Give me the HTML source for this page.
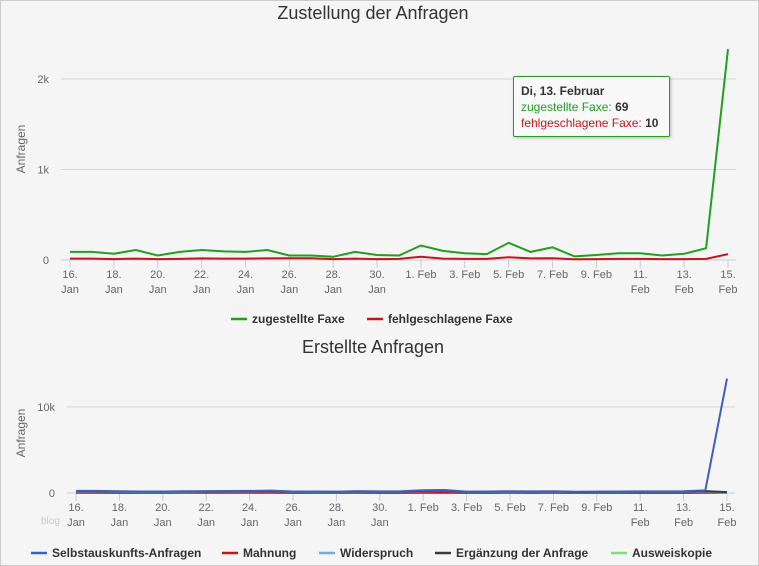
<!DOCTYPE html>
<html><head><meta charset="utf-8">
<style>
body{margin:0;background:#fff;}
#wrap{position:relative;width:757px;height:564px;border:1px solid #ccc;background:#f5f5f5;font-family:"Liberation Sans",sans-serif;overflow:hidden;}
svg{position:absolute;left:0;top:0;}
text{font-family:"Liberation Sans",sans-serif;}
#tip{position:absolute;left:512px;top:75px;width:146px;height:51px;background:#f9f9f9;border:1px solid #2a9a2a;border-radius:2px;box-shadow:1px 1px 3px rgba(0,0,0,.25);font-size:12px;line-height:16px;padding:6px 0 0 7px;box-sizing:border-box;width:157px;height:61px;color:#333;}
</style></head><body>
<div id="wrap">
<svg id="svg" width="759" height="566"></svg>
<div id="tip"><b>Di, 13. Februar</b><br><span style="color:#1fa01f">zugestellte Faxe: </span><b>69</b><br><span style="color:#c4161c">fehlgeschlagene Faxe: </span><b>10</b></div>
</div>
<script>
const xLabels1=["16.|Jan","18.|Jan","20.|Jan","22.|Jan","24.|Jan","26.|Jan","28.|Jan","30.|Jan","1. Feb","3. Feb","5. Feb","7. Feb","9. Feb","11.|Feb","13.|Feb","15.|Feb"];
const delivered=[90,90,70,110,50,90,110,95,90,110,50,50,35,90,55,50,160,100,75,65,190,90,140,40,55,75,75,50,69,130,2330];
const failed=[15,15,10,15,10,12,18,15,15,18,20,20,10,15,10,12,35,15,12,12,30,18,20,8,10,12,12,10,10,12,65];
const yTicks1=[0,1000,2000];const yTickLabels1=["0","1k","2k"];
const selbst=[250,240,200,180,170,200,220,230,250,280,180,170,160,220,190,200,320,350,160,180,200,190,210,150,160,180,190,190,200,300,13300];
const mahnung=[20,20,15,15,15,20,20,20,20,20,15,15,15,20,15,15,20,20,15,15,20,15,20,10,15,15,15,15,15,20,60];
const widerspruch=[150,140,120,110,110,130,140,150,160,200,120,110,100,140,120,130,200,250,110,120,130,120,140,100,110,120,120,120,130,160,120];
const ergaenzung=[200,190,160,150,150,170,180,190,200,230,150,140,130,180,150,160,250,280,130,150,170,150,170,120,130,150,150,150,160,220,100];
const ausweis=[30,30,25,25,25,30,30,30,30,30,25,25,25,30,25,25,30,30,25,25,30,25,30,20,25,25,25,25,25,30,40];
const yTicks2=[0,10000];const yTickLabels2=["0","10k"];
const NS="http://www.w3.org/2000/svg";const svg=document.getElementById('svg');
function mk(t,a,p){const e=document.createElementNS(NS,t);for(const k in a)e.setAttribute(k,a[k]);(p||svg).appendChild(e);return e;}
function chart(cfg){
 const n=cfg.series[0].data.length;
 const x=i=>cfg.x0+(cfg.x1-cfg.x0)*i/(n-1);
 const y=v=>cfg.y0-(v*cfg.ky);
 cfg.yt.forEach((v,i)=>{
  const l=mk('line',{x1:cfg.gl,x2:cfg.gr,y1:y(v),y2:y(v),stroke:i==0?'#c0d0e0':'#d8d8d8','stroke-width':1});
  
  const t=mk('text',{x:cfg.gl-12,y:y(v)+4,'text-anchor':'end','font-size':11,fill:'#666'});t.textContent=cfg.ytl[i];
  
 });
 xLabels1.forEach((s,j)=>{const i=j<8?j*2:16+(j-8)*2;const xx=x(i);
  const tk=mk('line',{x1:xx,x2:xx,y1:cfg.y0,y2:cfg.y0+8,stroke:'#c0d0e0'});
  
  const p=s.split('|');const t=mk('text',{x:xx,y:cfg.y0+18,'text-anchor':'middle','font-size':11,fill:'#666'});
  
  p.forEach((q,k)=>{const ts=mk('tspan',{x:xx,dy:k?15:0},t);ts.textContent=q;});
 });
 cfg.series.forEach(s=>{
  const d=s.data.map((v,i)=>(i?'L':'M')+x(i).toFixed(1)+','+y(v).toFixed(1)).join('');
  const pth=mk('path',{d:d,fill:'none',stroke:s.c,'stroke-width':2});
  
 });
}
chart({x0:69,x1:727,y0:259,ky:0.0905,gl:60,gr:735,yt:yTicks1,ytl:yTickLabels1,series:[{data:failed,c:'#c4161c',name:'failed-faxes-line'},{data:delivered,c:'#1fa01f',name:'delivered-faxes-line'}]});
chart({x0:75,x1:726,y0:492,ky:0.0086,gl:66,gr:734,yt:yTicks2,ytl:yTickLabels2,series:[{data:ausweis,c:'#7ce07c',name:'ausweiskopie-line'},{data:mahnung,c:'#c4161c',name:'mahnung-line'},{data:widerspruch,c:'#7fa8d8',name:'widerspruch-line'},{data:ergaenzung,c:'#2f3f3f',name:'ergaenzung-line'},{data:selbst,c:'#3e5fc0',name:'selbstauskunft-line'}]});
function txt(s,a,name){const t=mk('text',a);t.textContent=s;return t;}
txt('Zustellung der Anfragen',{x:372,y:18,'text-anchor':'middle','font-size':18,fill:'#333'},'chart1-title');
txt('Erstellte Anfragen',{x:372,y:352,'text-anchor':'middle','font-size':18,fill:'#333'},'chart2-title');
txt('Anfragen',{x:0,y:0,transform:'translate(24,148) rotate(-90)','text-anchor':'middle','font-size':12,fill:'#666'},'y-axis-title-1');
txt('Anfragen',{x:0,y:0,transform:'translate(24,432) rotate(-90)','text-anchor':'middle','font-size':12,fill:'#666'},'y-axis-title-2');
txt('blog',{x:40,y:523,'font-size':10,fill:'#ccc'},'watermark');
function leg(x,y,c,s,name){const g=mk('g',{});
 mk('line',{x1:x,x2:x+16,y1:y-4,y2:y-4,stroke:c,'stroke-width':2.5},g);
 const t=mk('text',{x:x+21,y:y,'font-size':12,'font-weight':'bold',fill:'#333'},g);t.textContent=s;}
leg(230,322,'#1fa01f','zugestellte Faxe','legend-delivered');
leg(366,322,'#c4161c','fehlgeschlagene Faxe','legend-failed');
leg(30,556,'#3e5fc0','Selbstauskunfts-Anfragen','legend-selbstauskunft');
leg(221,556,'#c4161c','Mahnung','legend-mahnung');
leg(318,556,'#7fa8d8','Widerspruch','legend-widerspruch');
leg(434,556,'#2f3f3f','Ergänzung der Anfrage','legend-ergaenzung');
leg(610,556,'#7ce07c','Ausweiskopie','legend-ausweiskopie');
</script>
</body></html>
